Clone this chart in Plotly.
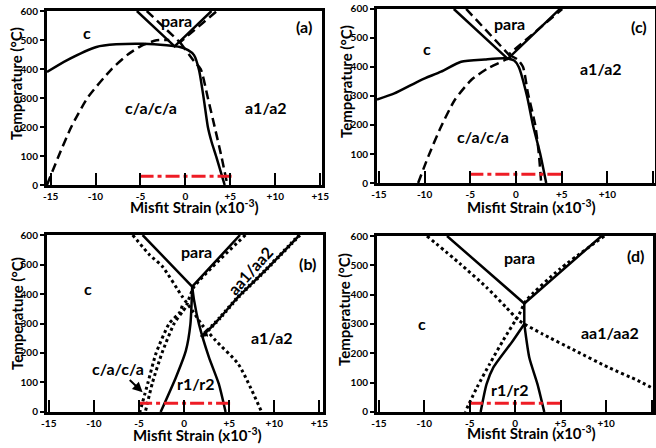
import plotly.graph_objects as go

# ---------------- data (misfit strain x10^-3, temperature °C) ----------------
# Panel (a)
a_solid_x = [-15.4, -13.2, -9.9, -7.7, -4.7, -2.1, -0.6, 0.3, 0.96, 1.52, 2.04, 2.5, 2.9, 3.44, 4.37]
a_solid_T = [390, 430, 476, 485, 487, 482, 476, 465, 448, 396, 298, 200, 150, 97, 0]
a_para_solid_x = [-5.4, -1.2, 2.9]
a_para_solid_T = [600, 478, 600]
a_para_dash_x = [-4.3, -0.6, 3.5]
a_para_dash_T = [600, 492, 600]
a_dash_right_x = [-0.6, 0.4, 1.0, 1.7, 2.5, 3.26, 4.0, 4.67]
a_dash_right_T = [492, 450, 425, 400, 300, 200, 100, 0]
a_dash_left_x = [-15.4, -14.1, -12.7, -10.9, -8.2, -6.4, -4.9, -3.2, -1.8]
a_dash_left_T = [0, 100, 200, 300, 400, 450, 480, 499, 500]

# Panel (c)
c_solid_x = [-15.2, -13.3, -10.4, -8.2, -6.0, -3.4, -1.2, -0.2, 0.3, 1.2, 1.85, 2.65, 3.3]
c_solid_T = [288, 309, 355, 384, 418, 426, 430, 422, 400, 300, 200, 100, 0]
c_para_solid_x = [-6.8, -0.9, 4.8]
c_para_solid_T = [600, 428, 600]
c_para_dash_x = [-5.45, -0.8, 5.05]
c_para_dash_T = [600, 443, 600]
c_dash_right_x = [-0.8, 0.2, 0.77, 1.3, 2.1, 2.5, 2.75]
c_dash_right_T = [443, 425, 400, 310, 200, 100, 0]
c_dash_left_x = [-10.7, -9.6, -8.2, -6.7, -4.9, -3.1, -1.2, -0.5]
c_dash_left_T = [0, 91, 194, 286, 355, 395, 424, 436]

# Panel (b)
b_para_solid_x = [-4.6, 0.9, 6.2]
b_para_solid_T = [600, 425, 600]
b_r_left_x = [0.9, 0.7, 0.2, -0.9, -2.6]
b_r_left_T = [425, 298, 208, 118, 0]
b_r_right_x = [0.9, 1.1, 1.65, 2.75, 3.85, 4.6]
b_r_right_T = [425, 380, 298, 186, 95, 0]
b_dot1_x = [-5.7, -3.8, -2.4, -0.2, 1.0, 2.0, 3.5, 6.0, 8.6]
b_dot1_T = [600, 532, 493, 391, 340, 295, 242, 163, 0]
b_dot2_x = [6.8, 1.1, 0.2, -0.2, -1.1, -2.45, -3.5, -4.3]
b_dot2_T = [600, 424, 356, 339, 300, 200, 100, 0]
b_dot3_x = [-0.2, -0.45, -1.65, -3.1, -4.0, -4.9]
b_dot3_T = [360, 339, 300, 200, 100, 0]
b_hatch_x = [12.8, 9.0, 6.0, 4.0, 2.6, 2.0, 2.6]
b_hatch_T = [600, 480, 390, 320, 275, 259, 262]

# Panel (d)
d_para_solid_x = [-7.5, 1.0, 9.5]
d_para_solid_T = [600, 370, 600]
d_stem_x = [1.0, 1.0]
d_stem_T = [370, 300]
d_r_left_x = [1.0, -0.25, -2.4, -3.15, -3.8]
d_r_left_T = [300, 243, 152, 95, 0]
d_r_right_x = [1.0, 1.55, 2.45, 3.2]
d_r_right_T = [300, 186, 95, 0]
d_dot_a_x = [-9.7, -6.05, -3.15, -1.0, 0.45, 3.0, 6.6, 10.25, 13.5, 15.3]
d_dot_a_T = [600, 505, 425, 357, 311, 266, 209, 152, 107, 78]
d_dot_b_x = [9.8, 4.9, 1.2, 0.45, -1.35, -2.8, -4.2, -5.5]
d_dot_b_T = [600, 487, 380, 334, 243, 164, 84, 0]

# operating window (red dash-dot)
red_x = [-5.1, 5.3]
red_T = [30, 30]

x_tickvals = [-15, -10, -5, 0, 5, 10, 15]
x_ticktext = ["-15", "-10", "-5", "0", "+5", "+10", "+15"]
y_tickvals = [0, 100, 200, 300, 400, 500, 600]

# ---------------- styles ----------------
FONT = "Lato"
SOLID = dict(color="black", width=2.5)
DASH = dict(color="black", width=2.5, dash="9px,5px")
DOT = dict(color="black", width=3, dash="dot")
RED = dict(color="#ee1c25", width=3, dash="14px,4px,4px,4px")

fig = go.Figure()


def add(xs, ys, line, ax, smooth=False):
    xa = "x" if ax == 1 else f"x{ax}"
    ya = "y" if ax == 1 else f"y{ax}"
    ln = dict(line)
    if smooth:
        ln["shape"] = "spline"
        ln["smoothing"] = 0.6
    fig.add_trace(go.Scatter(x=xs, y=ys, mode="lines", line=ln, xaxis=xa, yaxis=ya,
                             showlegend=False, hoverinfo="skip"))


# (a) -> axes 1
add(a_dash_left_x, a_dash_left_T, DASH, 1, True)
add(a_dash_right_x, a_dash_right_T, DASH, 1, True)
add(a_para_dash_x, a_para_dash_T, DASH, 1)
add(a_para_solid_x, a_para_solid_T, SOLID, 1)
add(a_solid_x, a_solid_T, SOLID, 1, True)
add(red_x, red_T, RED, 1)

# (c) -> axes 2
add(c_dash_left_x, c_dash_left_T, DASH, 2, True)
add(c_dash_right_x, c_dash_right_T, DASH, 2, True)
add(c_para_dash_x, c_para_dash_T, DASH, 2)
add(c_para_solid_x, c_para_solid_T, SOLID, 2)
add(c_solid_x, c_solid_T, SOLID, 2, True)
add(red_x, red_T, RED, 2)

# (b) -> axes 3
add(b_dot1_x, b_dot1_T, DOT, 3, True)
add(b_dot2_x, b_dot2_T, DOT, 3, True)
add(b_dot3_x, b_dot3_T, DOT, 3, True)
add(b_para_solid_x, b_para_solid_T, SOLID, 3)
add(b_r_left_x, b_r_left_T, SOLID, 3, True)
add(b_r_right_x, b_r_right_T, SOLID, 3, True)
add(b_hatch_x, b_hatch_T, SOLID, 3, True)
add(b_hatch_x, b_hatch_T, dict(color="black", width=4, dash="2px,3px"), 3, True)
add(red_x, red_T, RED, 3)

# (d) -> axes 4
add(d_dot_a_x, d_dot_a_T, DOT, 4, True)
add(d_dot_b_x, d_dot_b_T, DOT, 4, True)
add(d_para_solid_x, d_para_solid_T, SOLID, 4)
add(d_stem_x, d_stem_T, SOLID, 4)
add(d_r_left_x, d_r_left_T, SOLID, 4, True)
add(d_r_right_x, d_r_right_T, SOLID, 4, True)
add(red_x, red_T, RED, 4)

domains = {
    1: ([0.0716, 0.4909], [0.587, 0.9754], [-15.4, 15.2]),
    2: ([0.5747, 0.9985], [0.5915, 0.98], [-15.2, 15.2]),
    3: ([0.0716, 0.4924], [0.0804, 0.4754], [-15.2, 15.4]),
    4: ([0.5747, 0.996], [0.0804, 0.4732], [-15.2, 15.2]),
}
tickfont = dict(family=FONT, size=10, color="black", weight="bold")
layout = {}
for k, (dx, dy, xr) in domains.items():
    xs = "xaxis" if k == 1 else f"xaxis{k}"
    ys = "yaxis" if k == 1 else f"yaxis{k}"
    yanchor = "y" if k == 1 else f"y{k}"
    xanchor = "x" if k == 1 else f"x{k}"
    layout[xs] = dict(domain=dx, anchor=yanchor, range=xr, tickvals=x_tickvals, ticktext=x_ticktext,
                      ticks="inside", ticklen=12, tickwidth=2, tickcolor="black",
                      showline=True, linewidth=3, linecolor="black", mirror=True, automargin=False,
                      showgrid=False, zeroline=False, tickfont=tickfont)
    layout[ys] = dict(domain=dy, anchor=xanchor, range=[0, 600], tickvals=y_tickvals,
                      ticks="outside", ticklen=4, tickwidth=2, tickcolor="black",
                      showline=True, linewidth=3, linecolor="black", mirror=True, automargin=False,
                      showgrid=False, zeroline=False, tickfont=tickfont)

fig.update_layout(width=656, height=448, margin=dict(l=0, r=0, t=0, b=0, autoexpand=False),
                  plot_bgcolor="white", paper_bgcolor="white", **layout)

lab = dict(family=FONT, size=16, color="black", weight="bold")


def txt(ax, x, y, s, angle=0, size=16):
    xr = "x" if ax == 1 else f"x{ax}"
    yr = "y" if ax == 1 else f"y{ax}"
    f = dict(lab)
    f["size"] = size
    fig.add_annotation(x=x, y=y, xref=xr, yref=yr, text=s, showarrow=False, font=f, textangle=angle,
                       xanchor="center", yanchor="middle")


txt(1, -11, 527, "c")
txt(1, -1.0, 569, "para")
txt(1, 13.2, 545, "(a)")
txt(1, -3.8, 269, "c/a/c/a")
txt(1, 9.0, 269, "a1/a2")

txt(2, -9.7, 464, "c")
txt(2, -0.7, 550, "para")
txt(2, 13.5, 539, "(c)")
txt(2, 9.3, 395, "a1/a2")
txt(2, -3.6, 160, "c/a/c/a")

txt(3, -10.7, 417, "c")
txt(3, 1.4, 545, "para")
txt(3, 13.7, 502, "(b)")
txt(3, 7.3, 480, "aa1/aa2", angle=-48)
txt(3, 9.7, 254, "a1/a2")
txt(3, 1.3, 95, "r1/r2")
fig.add_annotation(x=-4.6, y=67, xref="x3", yref="y3", ax=-7.3, ay=146, axref="x3", ayref="y3",
                   text="c/a/c/a", showarrow=True, arrowhead=2, arrowsize=1, arrowwidth=2,
                   arrowcolor="black", font=lab)

txt(4, 0.5, 527, "para")
txt(4, 13.2, 533, "(d)")
txt(4, -10.2, 300, "c")
txt(4, 10.4, 272, "aa1/aa2")
txt(4, -0.6, 78, "r1/r2")

# axis titles (placed in pixel-equivalent paper coords)
W, H = 656.0, 448.0
ttl = dict(family=FONT, size=15, color="black", weight="bold")
for cx, cy in [(194, 206), (531, 206), (197, 434), (531, 432)]:
    fig.add_annotation(x=cx / W, y=1 - cy / H, xref="paper", yref="paper",
                       xanchor="center", yanchor="middle",
                       text="Misfit Strain (x10<sup>-3</sup>)", showarrow=False, font=ttl)
for cx, cy in [(16, 84), (346, 82), (17, 314), (344, 310)]:
    fig.add_annotation(x=cx / W, y=1 - cy / H, xref="paper", yref="paper",
                       xanchor="center", yanchor="middle",
                       text="Temperature (°C)", showarrow=False, font=ttl, textangle=-90)

fig.write_html("out.html")
